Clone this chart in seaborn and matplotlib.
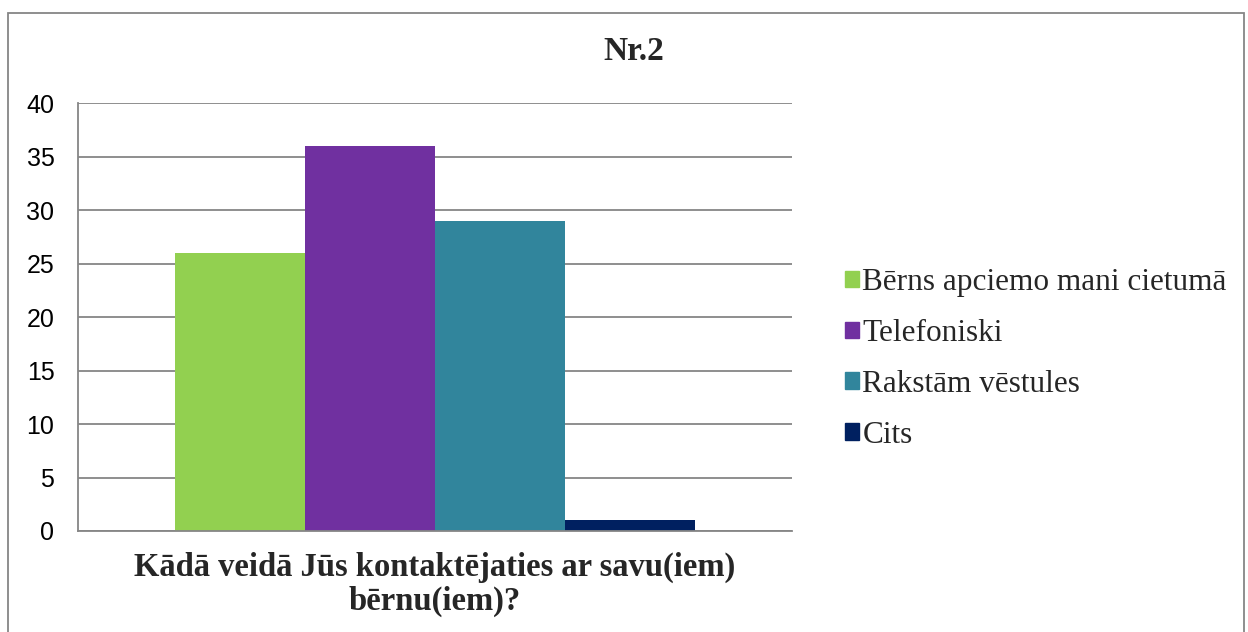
import pandas as pd
import matplotlib.pyplot as plt
import seaborn as sns
from matplotlib.patches import Rectangle

question = "Kādā veidā Jūs kontaktējaties ar savu(iem)\nbērnu(iem)?"
answers = ["Bērns apciemo mani cietumā", "Telefoniski", "Rakstām vēstules", "Cits"]
counts = [26, 36, 29, 1]
colors = ["#92D050", "#7030A0", "#31859C", "#002060"]

df = pd.DataFrame({"jautajums": [question] * len(answers), "atbilde": answers, "skaits": counts})

sns.set_theme(style="white")
plt.rcParams["font.family"] = ["Liberation Sans", "DejaVu Sans"]

fig = plt.figure(figsize=(12.48, 6.32), dpi=100)
ax = fig.add_axes([78 / 1248, 1 - 531 / 632, 714 / 1248, 428 / 632])

sns.barplot(data=df, x="jautajums", y="skaits", hue="atbilde", palette=colors,
            width=0.727, saturation=1, linewidth=0, ax=ax, legend=False)

ax.set_xlim(-0.5, 0.5)
ax.set_ylim(0, 40)
ax.set_yticks(range(0, 41, 5))
ax.yaxis.grid(True, color="#868686", linewidth=1.3)
ax.set_axisbelow(True)
for s in ["top", "right"]:
    ax.spines[s].set_visible(False)
for s in ["left", "bottom"]:
    ax.spines[s].set_color("#868686")
    ax.spines[s].set_linewidth(1.3)
ax.tick_params(axis="y", length=0, pad=17, labelsize=18, colors="black")
ax.tick_params(axis="x", length=0, pad=15)
ax.set_xlabel("")
ax.set_ylabel("")
for lbl in ax.get_xticklabels():
    lbl.set_fontfamily("Liberation Serif")
    lbl.set_fontweight("bold")
    lbl.set_fontsize(23.5)
    lbl.set_linespacing(1.12)

fig.text(634 / 1248, 1 - 52 / 632, "Nr.2", ha="center", va="center",
         fontsize=24, fontweight="bold", fontfamily="Liberation Serif")

handles = [Rectangle((0, 0), 1, 1, color=c) for c in colors]
fig.legend(handles, answers, loc="center left", bbox_to_anchor=(817 / 1248, 1 - 359 / 632),
           frameon=False, prop={"family": "Liberation Serif", "size": 22.5},
           handlelength=0.45, handleheight=0.45, handletextpad=0.1, labelspacing=0.7)

fig.add_artist(Rectangle((8 / 1248, -0.05), (1244 - 8) / 1248, 1 - 13 / 632 + 0.05,
                         transform=fig.transFigure, fill=False, edgecolor="#868686", linewidth=1.3))

fig.savefig("out.png", dpi=100)
